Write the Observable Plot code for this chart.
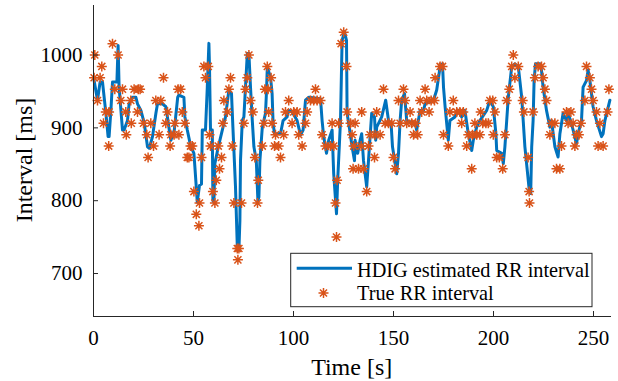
<!DOCTYPE html>
<html><head><meta charset="utf-8">
<script src="https://cdn.jsdelivr.net/npm/d3@7"></script>
<script src="https://cdn.jsdelivr.net/npm/@observablehq/plot@0.6"></script>
<style>html,body{margin:0;padding:0;background:#fff;} svg{display:block;}</style>
</head><body><div id="chart"></div>
<script>
// Tick labels
const xTicks = [0, 50, 100, 150, 200, 250];
const yTicks = [700, 800, 900, 1000];

// True RR interval (asterisks): time [s], interval [ms]
const trueT = [0.3,0.65,2.0,3.3,4.15,5.0,6.15,7.6,7.8,9.5,10.65,12.3,13.65,14.5,16.15,16.4,18.65,18.9,20.3,22,22.4,23.3,25,26.65,27.3,28.65,30,31.15,32.8,33.65,35,36.15,37,38.3,38.65,40.3,40.65,42.3,
42.7,43.5,44.4,45.7,46.9,47.7,48.5,49.4,50.2,51.4,52.7,53.0,54.0,55.2,56.0,57.4,58.0,58.5,59.7,60.7,61.4,62.4,63.0,64.0,64.7,65.2,66.9,67.7,68.5,69.4,70.2,71.9,72.2,72.7,74.0,75.2,76.0,76.9,77.7,78.5,79.7,80.7,82.0,82.4,84.4,85.2,85.7,86.9,
87.3,87.6,88.8,89.3,90.5,91.0,92.6,93.5,95.1,96.0,97.6,99.3,100.1,101.8,102.6,104.3,106.0,106.8,108.5,110.1,111.0,111.8,113.5,114.3,116.0,118.5,119.3,120.1,121.0,121.5,121.8,122.6,123.8,125.1,126.5,126.8,128.5,129.3,129.8,130.1,
130.8,132.5,133.8,134.1,135.0,136.6,137.5,138.3,140.5,140.8,141.6,143.3,145.0,145.8,147.5,149.1,150.0,150.8,152.5,153.3,155.0,155.8,156.6,158.3,159.1,160.0,161.1,162.1,163.3,164.1,165.8,166.6,167.8,168.8,170.5,170.8,173.3,174.5,175.0,
177.4,178.2,179.9,181.6,183.2,184.1,184.9,186.6,187.4,189.1,189.5,190.7,191.6,193.2,193.6,194.6,196.2,197.4,198.2,199.6,199.9,200.7,201.6,202.9,204.6,205.7,206.6,207.9,209.1,209.9,210.7,212.4,214.6,215.2,217.3,217.8,218.0,
219.8,220.7,222.3,224.0,224.8,225.7,226.5,228.2,229.0,230.7,231.5,233.2,234.0,236.5,237.3,238.7,239.8,240.7,241.5,242.7,243.7,245.7,246.5,248.2,249.0,249.8,251.5,252.3,253.2,254.8,257.0,257.7];
const trueRR = [968.75,1000,937.5,968.75,984.4,906.25,921.9,875,921.9,1015.6,953.1,1000,937.5,953.1,921.9,890.6,937.5,906.25,953.1,921.9,953.1,953.1,906.25,890.6,859.4,906.25,875,937.5,890.6,937.5,968.75,906.25,921.9,875,890.6,890.6,906.25,953.1,
890.6,953.1,921.9,906.25,859.4,859.4,875,875,812.5,781.25,765.6,796.9,859.4,984.4,968.75,984.4,890.6,875,812.5,796.9,828.1,875,843.75,859.4,906.25,937.5,921.9,953.1,968.75,875,796.9,734.4,718.75,734.4,796.9,906.25,953.1,968.75,1000,937.5,921.9,859.4,796.9,828.1,875,906.25,953.1,984.4,
953.1,921.9,968.75,906.25,875,890.6,875,859.4,890.6,921.9,937.5,906.25,921.9,921.9,890.6,875,906.25,921.9,937.5,937.5,953.1,937.5,937.5,890.6,875,875,906.25,875,796.9,750,828.1,906.25,1015.6,1031.25,984.4,921.9,906.25,890.6,843.75,875,
906.25,843.75,875,921.9,843.75,812.5,875,890.6,859.4,890.6,921.9,890.6,953.1,906.25,906.25,906.25,859.4,843.75,937.5,906.25,953.1,937.5,906.25,921.9,906.25,890.6,906.25,890.6,937.5,921.9,953.1,937.5,921.9,937.5,937.5,968.75,984.4,984.4,890.6,
875,921.9,937.5,921.9,921.9,906.25,921.9,875,890.6,843.75,890.6,906.25,890.6,890.6,921.9,906.25,906.25,906.25,937.5,937.5,890.6,921.9,859.4,859.4,843.75,890.6,937.5,953.1,984.4,1000,968.75,984.4,937.5,921.9,859.4,812.5,796.9,
921.9,968.75,984.4,984.4,968.75,953.1,937.5,890.6,906.25,906.25,843.75,843.75,875,921.9,906.25,921.9,906.25,875,890.6,890.6,906.25,937.5,984.4,968.75,953.1,937.5,921.9,875,906.25,875,921.9,953.1];

// HDIG estimated RR interval (line): time [s], interval [ms]
const estT = [0.3,2.0,3.3,4.5,6.2,7.3,7.8,8.7,9.5,11.7,12.3,12.8,14.5,15.3,17,17.8,19.5,21.2,22,23.7,25.4,27,27.9,29.5,31.2,32,34.5,36.2,37.9,38.7,40.4,42.1,42.7,45.2,45.7,46.9,48.5,50.2,50.7,51.9,53.0,54.0,54.4,56.0,56.9,57.7,58.0,58.5,59.4,59.7,60.2,60.7,62.4,64.4,66.0,67.7,69.0,69.7,71.0,71.9,72.7,73.2,73.5,74.4,75.2,76.0,76.9,77.7,78.5,79.4,80.2,81.4,82.2,82.7,83.2,84.4,86.0,86.5,86.9,
88.5,89.3,89.8,90.5,93.5,94.8,96.8,97.6,99.3,101.8,103.5,104.8,106,107.6,113.5,114.3,115.1,116.5,117.6,119.3,120.1,121.5,122.1,123.5,124.3,125.5,126.5,126.8,128.1,129.3,130.5,
130.8,132.1,133.3,134.1,135,136.6,137.5,138.3,139.1,140.5,141.1,141.6,144.1,146.1,147.5,148.8,149.5,151.6,152.5,153.3,154.1,155.5,156.6,160.8,161.6,163.3,165,165.8,170,171.6,173.3,174.5,175,175.8,
177.4,178.2,180.7,182.4,184.1,185.7,187.4,189.1,189.9,191.6,193.2,196.6,198.2,199.9,201.2,201.6,204.1,204.9,205.7,206.6,207.4,209.1,210.7,212.4,214.1,215.7,217.9,218.6,219.1,
219.8,220.3,221,223.2,224,224.8,226.5,228.2,229,230.7,232.3,233.2,234.8,236.5,237.3,239,241.5,242.3,244,244.8,246.5,247.3,248.2,249.8,251.5,254,254.8,255.7,258.2];
const estRR = [965,938,963,963,920,888,888,924,963,963,1013,956,897,897,910,933,942,942,933,924,906,874,872,888,920,933,933,929,897,883,897,942,945,942,915,897,876,865,846,798,821,823,897,897,956,1016,984,897,897,800,798,851,874,897,915,952,947,901,819,737,732,773,855,910,915,956,1002,1002,956,910,874,855,800,805,855,901,920,950,983,
970,947,906,892,892,910,915,924,922,910,890,897,938,942,940,910,888,865,883,897,837,782,828,910,1020,1032,1020,920,897,874,855,
883,865,883,892,855,819,855,888,920,915,883,901,915,938,910,906,874,837,865,910,938,947,910,906,897,924,924,933,938,952,984,988,956,929,
883,910,915,924,915,924,892,869,883,901,910,924,938,929,892,869,865,851,874,910,942,984,988,984,942,874,814,810,874,
910,965,988,988,979,956,924,901,910,874,860,892,920,910,920,906,878,892,910,956,965,979,965,929,910,888,892,910,938];

const est = estT.map((t, i) => ({t, v: estRR[i]}));
const truth = trueT.map((t, i) => ({t, v: trueRR[i]}));

const blue = "#0072BD", orange = "#D95319", axisCol = "#262626";
const font = "'Liberation Serif', 'Times New Roman', serif";

const asterisk = {
  draw(ctx, size) {
    const r = Math.sqrt(size / Math.PI), d = r * Math.SQRT1_2;
    ctx.moveTo(-r, 0); ctx.lineTo(r, 0);
    ctx.moveTo(0, -r); ctx.lineTo(0, r);
    ctx.moveTo(-d, -d); ctx.lineTo(d, d);
    ctx.moveTo(-d, d); ctx.lineTo(d, -d);
  }
};

const W = 618, H = 381, mL = 93, mR = 7, mT = 5, mB = 65;
const frameW = W - mL - mR, frameH = H - mT - mB;

const chart = Plot.plot({
  width: W, height: H,
  marginLeft: mL, marginRight: mR, marginTop: mT, marginBottom: mB,
  style: {fontFamily: font, fontSize: "21px", color: "#000", background: "#fff"},
  x: {domain: [0, 259]},
  y: {domain: [641, 1068]},
  marks: [
    Plot.line(est, {x: "t", y: "v", stroke: blue, strokeWidth: 3}),
    Plot.dot(truth, {x: "t", y: "v", symbol: asterisk, r: 5, stroke: orange, fill: "none", strokeWidth: 1.5}),
    Plot.ruleX([0], {stroke: axisCol, strokeWidth: 1}),
    Plot.ruleY([641], {stroke: axisCol, strokeWidth: 1}),
    Plot.tickX(xTicks, {x: d => d, insetTop: frameH - 5, stroke: axisCol}),
    Plot.tickY(yTicks, {y: d => d, insetRight: frameW - 5, stroke: axisCol}),
    Plot.axisX({ticks: xTicks, tickSize: 0, tickPadding: 14, tickFormat: d => String(d), label: null, fontSize: 21, fontFamily: font, fill: "#000"}),
    Plot.axisY({ticks: yTicks, tickSize: 0, tickPadding: 11, tickFormat: d => String(d), label: null, fontSize: 21, fontFamily: font, fill: "#000"})
  ]
});

document.getElementById("chart").append(chart);

const svg = d3.select(chart);
// Axis labels
svg.append("text").attr("x", 351.7).attr("y", 375).attr("text-anchor", "middle")
  .attr("font-family", font).attr("font-size", 24).attr("fill", "#000").text("Time [s]");
svg.append("text").attr("transform", "translate(31.5,160) rotate(-90)").attr("text-anchor", "middle")
  .attr("font-family", font).attr("font-size", 24).attr("fill", "#000").text("Interval [ms]");

// Legend
const lg = svg.append("g").attr("text-anchor", "start");
lg.append("rect").attr("x", 290.7).attr("y", 253.3).attr("width", 301.3).attr("height", 53.4)
  .attr("fill", "#fff").attr("stroke", axisCol).attr("stroke-width", 1);
lg.append("line").attr("x1", 296.7).attr("x2", 352).attr("y1", 268.3).attr("y2", 268.3)
  .attr("stroke", blue).attr("stroke-width", 3);
lg.append("path").attr("transform", "translate(323.5,293)")
  .attr("d", d3.symbol(asterisk, Math.PI * 5 * 5)())
  .attr("fill", "none").attr("stroke", orange).attr("stroke-width", 1.5);
lg.append("text").attr("x", 357).attr("y", 276.5).attr("text-anchor", "start").attr("font-family", font).attr("font-size", 20.3)
  .attr("fill", "#000").text("HDIG estimated RR interval");
lg.append("text").attr("x", 357).attr("y", 300).attr("text-anchor", "start").attr("font-family", font).attr("font-size", 20.3)
  .attr("fill", "#000").text("True RR interval");
</script>
</body></html>
